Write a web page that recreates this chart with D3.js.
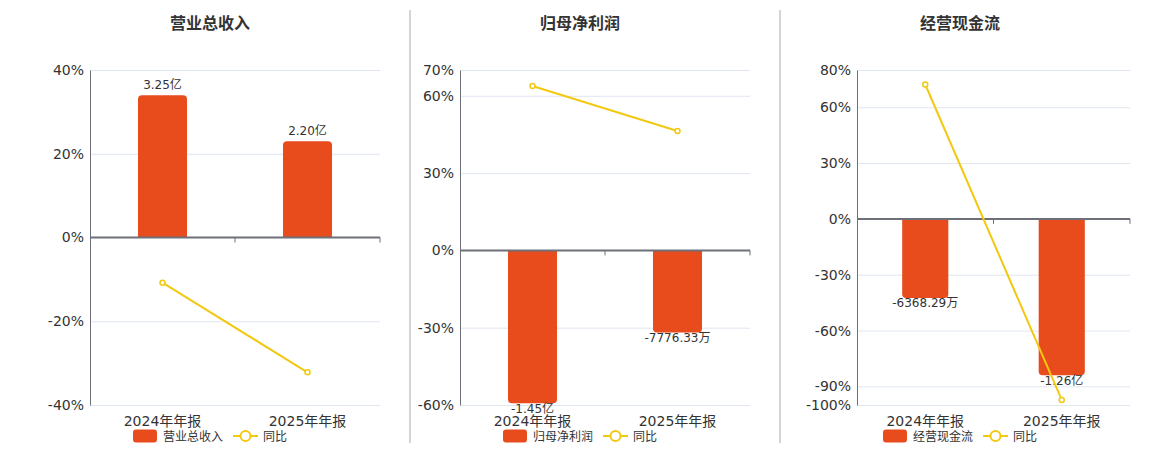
<!DOCTYPE html>
<html>
<head>
<meta charset="utf-8">
<script src="https://cdn.jsdelivr.net/npm/d3@7"></script>
<style>
  body { margin: 0; background: #fff; }
  svg { display: block; font-family: "DejaVu Sans", "Noto Sans CJK SC", sans-serif; }
</style>
</head>
<body>
<svg id="chart" width="1160" height="450"></svg>
<script>
const categories = ['2024年年报', '2025年年报'];
const titles = ['营业总收入', '归母净利润', '经营现金流'];
// bar values in 亿
const barValues = [[3.25, 2.20], [-1.45, -0.777633], [-0.636829, -1.26]];
const barLabels = [['3.25亿', '2.20亿'], ['-1.45亿', '-7776.33万'], ['-6368.29万', '-1.26亿']];
const yoyValues = [[-10.8, -32.2], [63.8, 46.3], [72.2, -97.3]];
const pctTicks = [
  [-40, -20, 0, 20, 40],
  [-60, -30, 0, 30, 60, 70],
  [-100, -90, -60, -30, 0, 30, 60, 80]
];
const barMax = [3.83, 1.71, 1.20];

const panels = [
  { x0: 90, x1: 380, cx: 210 },
  { x0: 460, x1: 750, cx: 580 },
  { x0: 857, x1: 1130, cx: 960 }
];
const plotTop = 70, plotBottom = 405;
const barColor = '#E84B1C', lineColor = '#F2C811', axisColor = '#6E7079';

const svg = d3.select('#chart');

// dividers
[410, 780].forEach(x => {
  svg.append('line').attr('x1', x).attr('x2', x).attr('y1', 10).attr('y2', 443)
    .attr('stroke', '#aaa').attr('stroke-width', 1);
});

function barPath(x, w, y0, y1, r) {
  // rounded corners on the far end from the zero line
  if (y1 < y0) {
    return `M${x},${y0}V${y1 + r}Q${x},${y1} ${x + r},${y1}H${x + w - r}Q${x + w},${y1} ${x + w},${y1 + r}V${y0}Z`;
  }
  return `M${x},${y0}V${y1 - r}Q${x},${y1} ${x + r},${y1}H${x + w - r}Q${x + w},${y1} ${x + w},${y1 - r}V${y0}Z`;
}

panels.forEach((p, i) => {
  const g = svg.append('g');
  const ticks = pctTicks[i];
  const pMin = d3.min(ticks), pMax = d3.max(ticks);

  const x = d3.scaleBand().domain(categories).range([p.x0, p.x1]).padding(0);
  const y = d3.scaleLinear().domain([pMin, pMax]).range([plotBottom, plotTop]);
  const yBar = d3.scaleLinear().domain([barMax[i] * pMin / pMax, barMax[i]]).range([plotBottom, plotTop]);

  g.append('text').attr('x', p.cx).attr('y', 29).attr('text-anchor', 'middle')
    .attr('font-size', 16).attr('font-weight', 'bold').attr('fill', '#333').text(titles[i]);

  // grid
  g.selectAll('.grid').data(ticks.filter(t => t !== 0)).join('line')
    .attr('x1', p.x0).attr('x2', p.x1)
    .attr('y1', d => y(d) + 0.5).attr('y2', d => y(d) + 0.5)
    .attr('stroke', '#E0E6F1');

  // y axis
  const yAxis = g.append('g').attr('transform', `translate(${p.x0},0)`)
    .call(d3.axisLeft(y).tickValues(ticks).tickSize(0).tickPadding(6).tickFormat(d => d + '%'));
  yAxis.select('.domain').attr('stroke', axisColor);
  yAxis.selectAll('text').attr('font-size', 14).attr('fill', '#333')
    .attr('font-family', '"DejaVu Sans", sans-serif');

  // bars
  const bw = x.bandwidth() * 0.338;
  g.selectAll('.bar').data(barValues[i]).join('path')
    .attr('d', (d, j) => barPath(x(categories[j]) + x.bandwidth() / 2 - bw / 2, bw, yBar(0), yBar(d), 4))
    .attr('fill', barColor);

  g.selectAll('.blabel').data(barValues[i]).join('text')
    .attr('x', (d, j) => x(categories[j]) + x.bandwidth() / 2)
    .attr('y', d => d >= 0 ? yBar(d) - 6 : yBar(d) + 9.5)
    .attr('text-anchor', 'middle').attr('font-size', 12).attr('fill', '#333')
    .text((d, j) => barLabels[i][j]);

  // zero axis
  const y0 = y(0);
  g.append('line').attr('x1', p.x0).attr('x2', p.x1).attr('y1', y0).attr('y2', y0)
    .attr('stroke', axisColor).attr('stroke-width', 2);
  [x(categories[1]), p.x1].forEach(tx => {
    g.append('line').attr('x1', tx).attr('x2', tx).attr('y1', y0).attr('y2', y0 + 5)
      .attr('stroke', axisColor).attr('stroke-width', 1);
  });

  // x labels
  g.selectAll('.xl').data(categories).join('text')
    .attr('x', d => x(d) + x.bandwidth() / 2).attr('y', 426)
    .attr('text-anchor', 'middle').attr('font-size', 14).attr('fill', '#333').text(d => d);

  // yoy line
  const line = d3.line().x((d, j) => x(categories[j]) + x.bandwidth() / 2).y(d => y(d));
  g.append('path').datum(yoyValues[i]).attr('d', line)
    .attr('fill', 'none').attr('stroke', lineColor).attr('stroke-width', 2);
  g.selectAll('.pt').data(yoyValues[i]).join('circle')
    .attr('cx', (d, j) => x(categories[j]) + x.bandwidth() / 2).attr('cy', d => y(d))
    .attr('r', 2.5).attr('fill', '#fff').attr('stroke', lineColor).attr('stroke-width', 1.5);

  // legend
  const lg = g.append('g').attr('transform', `translate(${p.cx - 77},436)`);
  lg.append('rect').attr('x', 0).attr('y', -6.5).attr('width', 24).attr('height', 13).attr('rx', 3)
    .attr('fill', barColor);
  lg.append('text').attr('x', 30).attr('y', 4.5).attr('font-size', 12).attr('fill', '#333').text(titles[i]);
  lg.append('line').attr('x1', 100).attr('x2', 125).attr('y1', 0).attr('y2', 0)
    .attr('stroke', lineColor).attr('stroke-width', 2);
  lg.append('circle').attr('cx', 112.5).attr('cy', 0).attr('r', 5)
    .attr('fill', '#fff').attr('stroke', lineColor).attr('stroke-width', 2);
  lg.append('text').attr('x', 130).attr('y', 4.5).attr('font-size', 12).attr('fill', '#333').text('同比');
});
</script>
</body>
</html>
